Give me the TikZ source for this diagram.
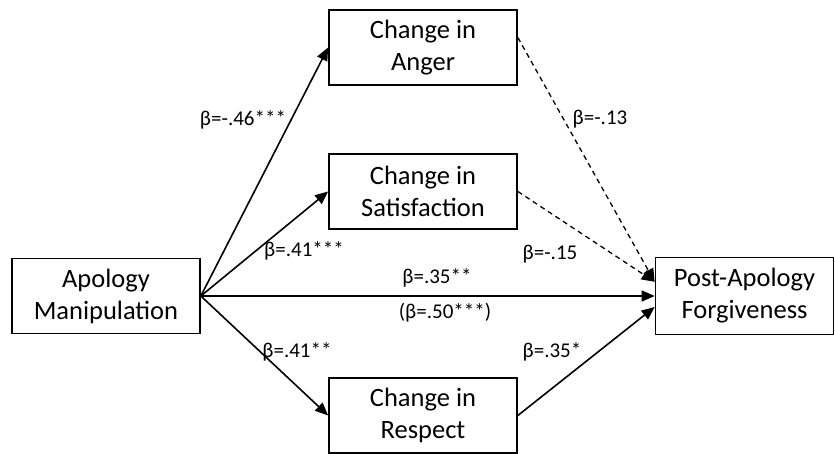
\documentclass[tikz,border=0pt]{standalone}
\usepackage{fontspec}
\setmainfont{Carlito}
\usetikzlibrary{arrows.meta}

\begin{document}
\begin{tikzpicture}[x=1pt, y=1pt,
    box/.style={draw, line width=1.7pt, minimum width=188pt, minimum height=75pt, align=center, inner sep=0pt, font=\fontsize{26.5}{32}\selectfont},
    coef/.style={inner sep=0pt, font=\fontsize{21}{25}\selectfont},
    arr/.style={-{Triangle[length=13pt, width=11pt]}, line width=1.6pt},
    ns/.style={arr, line width=1.3pt, dash pattern=on 5pt off 4pt}]
    \useasboundingbox (0,0) rectangle (835,454);

    % Boxes
    \node[box] (manip) at (106, 158) {Apology\\Manipulation};
    \node[box] (anger) at (423, 406.5) {Change in\\Anger};
    \node[box] (satis) at (423, 262.5) {Change in\\Satisfaction};
    \node[box] (resp) at (423, 38.5) {Change in\\Respect};
    \node[box, minimum width=178pt, minimum height=77pt] (forg) at (744.5, 158) {Post-Apology\\Forgiveness};

    % Paths a
    \draw[arr] (manip.east) -- (anger.west);
    \draw[arr] (manip.east) -- (satis.west);
    \draw[arr] (manip.east) -- (resp.west);

    % Direct path
    \draw[arr] (manip.east) -- (forg.west);

    % Paths b
    \draw[ns] (anger.6) -- (forg.171);
    \draw[ns] (satis.east) -- (forg.171);
    \draw[arr] (resp.east) -- (forg.187);

    % Coefficients
    \node[coef] (b46) at (243, 334) {β=-.46***};
    \node[coef] (b41s) at (304, 203) {β=.41***};
    \node[coef] (b41r) at (297, 102) {β=.41**};
    \node[coef] (b35d) at (437, 176) {β=.35**};
    \node[coef] (b50) at (445, 141) {(β=.50***)};
    \node[coef] (b15) at (550, 200) {β=-.15};
    \node[coef] (b13) at (600, 335) {β=-.13};
    \node[coef] (b35r) at (552, 102) {β=.35*};
\end{tikzpicture}
\end{document}
